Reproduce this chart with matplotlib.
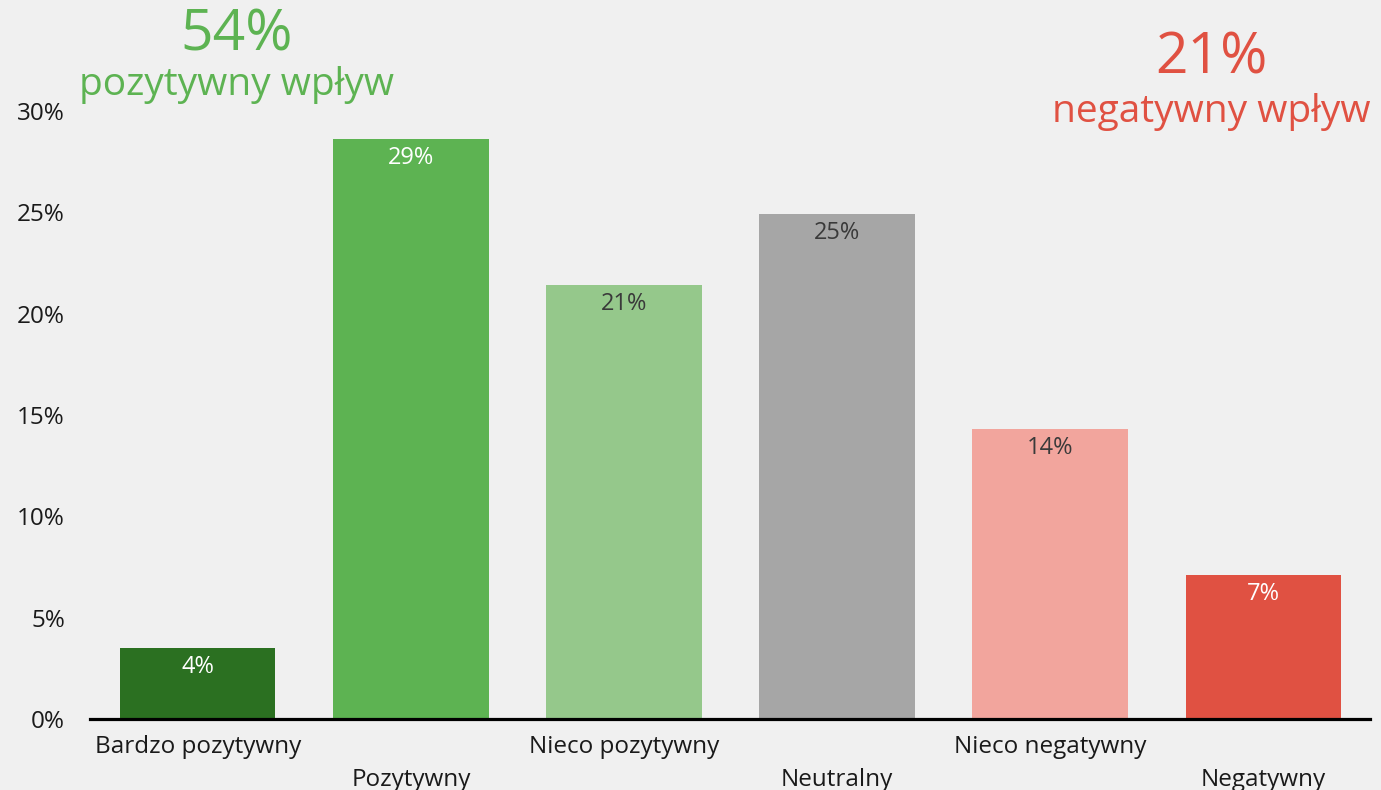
import matplotlib.pyplot as plt
from matplotlib.ticker import FuncFormatter

# odpowiedzi w procentach
categories = ["Bardzo pozytywny", "Pozytywny", "Nieco pozytywny", "Neutralny",
              "Nieco negatywny", "Negatywny"]
values = [3.5, 28.6, 21.4, 24.9, 14.3, 7.1]
labels = ["4%", "29%", "21%", "25%", "14%", "7%"]
positive_total = "54%"
negative_total = "21%"

colors = ["#2b7021", "#5db352", "#95c88b", "#a6a6a6", "#f2a59d", "#e05142"]
label_colors = ["white", "white", "#3a3a3a", "#3a3a3a", "#3a3a3a", "white"]

plt.rcParams['font.family'] = ['Open Sans', 'DejaVu Sans']
bg = "#f0f0f0"

fig = plt.figure(figsize=(13.81, 7.9), dpi=100, facecolor=bg)
ax = fig.add_axes([0.0652, 0.0899, 0.9268, 0.7696], facecolor=bg)

x = list(range(len(categories)))
ax.bar(x, values, width=0.73, color=colors, zorder=2)

for xi, v, lab, c in zip(x, values, labels, label_colors):
    ax.annotate(lab, (xi, v), xytext=(0, -5), textcoords="offset points",
                ha="center", va="top", fontsize=17, color=c)

ax.set_xlim(-0.505, 5.5)
ax.set_ylim(0, 30)
ax.set_yticks([0, 5, 10, 15, 20, 25, 30])
ax.yaxis.set_major_formatter(FuncFormatter(lambda v, p: f"{v:.0f}%"))
ax.tick_params(axis="y", length=0, labelsize=17.5, pad=18, labelcolor="#1a1a1a")

ax.set_xticks(x)
ax.set_xticklabels(categories)
ax.tick_params(axis="x", length=0, labelsize=17.5, labelcolor="#1a1a1a")
for i, t in enumerate(ax.get_xticklabels()):
    t.set_y(-0.019 if i % 2 == 0 else -0.072)
    t.set_va("top")

for s in ["top", "right", "left"]:
    ax.spines[s].set_visible(False)
ax.spines["bottom"].set_linewidth(2.3)
ax.spines["bottom"].set_color("black")
ax.spines["bottom"].set_zorder(3)

fig.text(0.171, 0.955, positive_total, ha="center", va="center", fontsize=41, color="#5db352")
fig.text(0.171, 0.893, "pozytywny wpływ", ha="center", va="center", fontsize=28, color="#5db352")
fig.text(0.877, 0.925, negative_total, ha="center", va="center", fontsize=41, color="#e05142")
fig.text(0.877, 0.858, "negatywny wpływ", ha="center", va="center", fontsize=28, color="#e05142")

fig.savefig("out.png", dpi=100, facecolor=bg)
